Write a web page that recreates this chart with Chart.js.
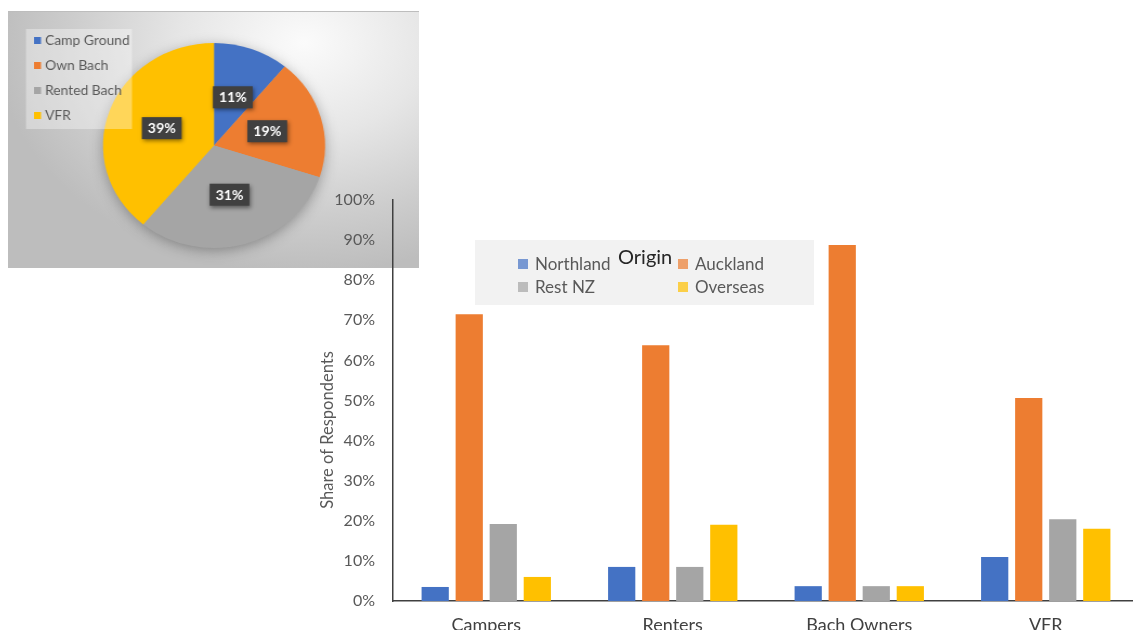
<!DOCTYPE html>
<html>
<head>
<meta charset="utf-8">
<script src="https://cdn.jsdelivr.net/npm/chart.js@4.4.1/dist/chart.umd.min.js"></script>
<style>
  html, body { margin:0; padding:0; background:#fff; width:1133px; height:630px; overflow:hidden; }
  #pieWrap { position:absolute; left:8px; top:11px; width:411px; height:256px; overflow:hidden;
    background: radial-gradient(ellipse 75% 90% at 72% 12%, #fbfbfb 0%, #e6e6e6 40%, #cdcdcd 75%, #bdbdbd 100%);
    border-top:1px solid #bdbdbd; z-index:1; }
  #pie { position:absolute; left:0; top:0; transform-origin:0 0; transform:scaleX(1.083); }
  #barWrap { position:absolute; left:0; top:0; width:1140px; height:630px; z-index:2; }
</style>
</head>
<body>
<div id="pieWrap"><canvas id="pie" width="380" height="256"></canvas></div>
<div id="barWrap"><canvas id="bar" width="1140" height="630"></canvas></div>
<script>
// ---- Data ----
const categories = ['Campers', 'Renters', 'Bach Owners', 'VFR'];
const seriesNames = ['Northland', 'Auckland', 'Rest NZ', 'Overseas'];
const northland = [3.5, 8.5, 3.7, 11];
const auckland = [71.5, 63.8, 88.8, 50.6];
const restNZ = [19.2, 8.5, 3.7, 20.4];
const overseas = [6, 19, 3.7, 18];
const yAxisTitle = 'Share of Respondents';
const legendTitle = 'Origin';

const pieLabels = ['Camp Ground', 'Own Bach', 'Rented Bach', 'VFR'];
const pieValues = [11, 19, 31, 39];

const colors = ['#4472C4', '#ED7D31', '#A5A5A5', '#FFC000'];
const legendColors = ['rgba(68,114,196,0.7)', 'rgba(237,125,49,0.7)', 'rgba(165,165,165,0.7)', 'rgba(255,192,0,0.7)'];
const FONT = 'Lato, "Open Sans", sans-serif';
const SX = 1.083; // horizontal stretch of the pie inset

// ---- Pie chart ----
const piePlugin = {
  id: 'pieExtras',
  beforeDatasetsDraw(chart) {
    const meta = chart.getDatasetMeta(0);
    const a = meta.data[0];
    const ctx = chart.ctx;
    ctx.save();
    ctx.shadowColor = 'rgba(0,0,0,0.35)';
    ctx.shadowBlur = 14;
    ctx.shadowOffsetY = 3;
    ctx.fillStyle = '#aaaaaa';
    ctx.beginPath();
    ctx.arc(a.x, a.y, a.outerRadius - 1, 0, Math.PI * 2);
    ctx.fill();
    ctx.restore();
  },
  afterDatasetsDraw(chart) {
    const ctx = chart.ctx;
    const meta = chart.getDatasetMeta(0);
    meta.data.forEach((arc, i) => {
      const p = arc.getCenterPoint();
      const txt = pieValues[i] + '%';
      ctx.save();
      ctx.font = 'bold 13px ' + FONT;
      const w = ctx.measureText(txt).width + 11;
      const h = 22;
      ctx.shadowColor = 'rgba(0,0,0,0.45)';
      ctx.shadowBlur = 4;
      ctx.shadowOffsetX = 1;
      ctx.shadowOffsetY = 2;
      ctx.fillStyle = '#404040';
      ctx.fillRect(p.x - w / 2, p.y - h / 2, w, h);
      ctx.shadowColor = 'transparent';
      ctx.fillStyle = '#ffffff';
      ctx.textAlign = 'center';
      ctx.textBaseline = 'middle';
      ctx.fillText(txt, p.x, p.y + 1);
      ctx.restore();
    });
  },
  afterDraw(chart) {
    const ctx = chart.ctx;
    ctx.save();
    ctx.fillStyle = 'rgba(255,255,255,0.35)';
    ctx.fillRect(18 / SX, 17, 106 / SX, 100);
    ctx.font = '12.8px ' + FONT;
    ctx.textBaseline = 'middle';
    pieLabels.forEach((lab, i) => {
      const y = 29 + i * 25;
      ctx.fillStyle = colors[i];
      ctx.fillRect(26 / SX, y - 4, 7 / SX, 7);
      ctx.fillStyle = '#595959';
      ctx.fillText(lab, 37 / SX, y);
    });
    ctx.restore();
  }
};

new Chart(document.getElementById('pie'), {
  type: 'pie',
  data: {
    labels: pieLabels,
    datasets: [{ data: pieValues, backgroundColor: colors, borderWidth: 0 }]
  },
  options: {
    responsive: false,
    animation: false,
    layout: { padding: { left: 87.7, right: 87.3, top: 31, bottom: 20 } },
    plugins: { legend: { display: false }, tooltip: { enabled: false } }
  },
  plugins: [piePlugin]
});

// ---- Bar chart ----
const barPlugin = {
  id: 'barExtras',
  afterDraw(chart) {
    const ctx = chart.ctx;
    ctx.save();
    ctx.translate(328, 430);
    ctx.rotate(-Math.PI / 2);
    ctx.font = '16.5px ' + FONT;
    ctx.fillStyle = '#595959';
    ctx.textAlign = 'center';
    ctx.textBaseline = 'middle';
    ctx.fillText(yAxisTitle, 0, 0);
    ctx.restore();

    ctx.save();
    ctx.fillStyle = '#f2f2f2';
    ctx.fillRect(475, 240, 339, 65);
    ctx.font = '20px ' + FONT;
    ctx.fillStyle = '#262626';
    ctx.textBaseline = 'middle';
    ctx.fillText(legendTitle, 618, 258);
    ctx.font = '17px ' + FONT;
    const pos = [[518, 264], [678, 264], [518, 287], [678, 287]];
    chart.data.datasets.forEach((ds, i) => {
      const [x, y] = pos[i];
      ctx.fillStyle = legendColors[i];
      ctx.fillRect(x, y - 5, 10, 10);
      ctx.fillStyle = '#595959';
      ctx.fillText(ds.label, x + 17, y + 1);
    });
    ctx.restore();
  }
};

const seriesData = [northland, auckland, restNZ, overseas];
new Chart(document.getElementById('bar'), {
  type: 'bar',
  data: {
    labels: categories,
    datasets: seriesNames.map((n, i) => ({
      label: n,
      data: seriesData[i],
      backgroundColor: colors[i],
      borderWidth: 0,
      categoryPercentage: 0.73,
      barPercentage: 0.8
    }))
  },
  options: {
    responsive: false,
    animation: false,
    layout: { padding: { left: 0, top: 200, right: 1, bottom: 0 } },
    plugins: { legend: { display: false }, tooltip: { enabled: false } },
    scales: {
      x: {
        afterFit(s) { s.height = 29; },
        grid: { display: false, drawTicks: false },
        border: { display: true, color: '#404040', width: 1.5 },
        ticks: { color: '#404040', font: { family: FONT, size: 18 }, padding: 13, maxRotation: 0 }
      },
      y: {
        min: 0, max: 100,
        afterFit(s) { s.width = 393; },
        grid: { display: false, drawTicks: false },
        border: { display: true, color: '#404040', width: 1.5 },
        ticks: { stepSize: 10, color: '#595959', font: { family: FONT, size: 16 }, padding: 18,
          callback: v => v + '%' }
      }
    }
  },
  plugins: [barPlugin]
});
</script>
</body>
</html>
